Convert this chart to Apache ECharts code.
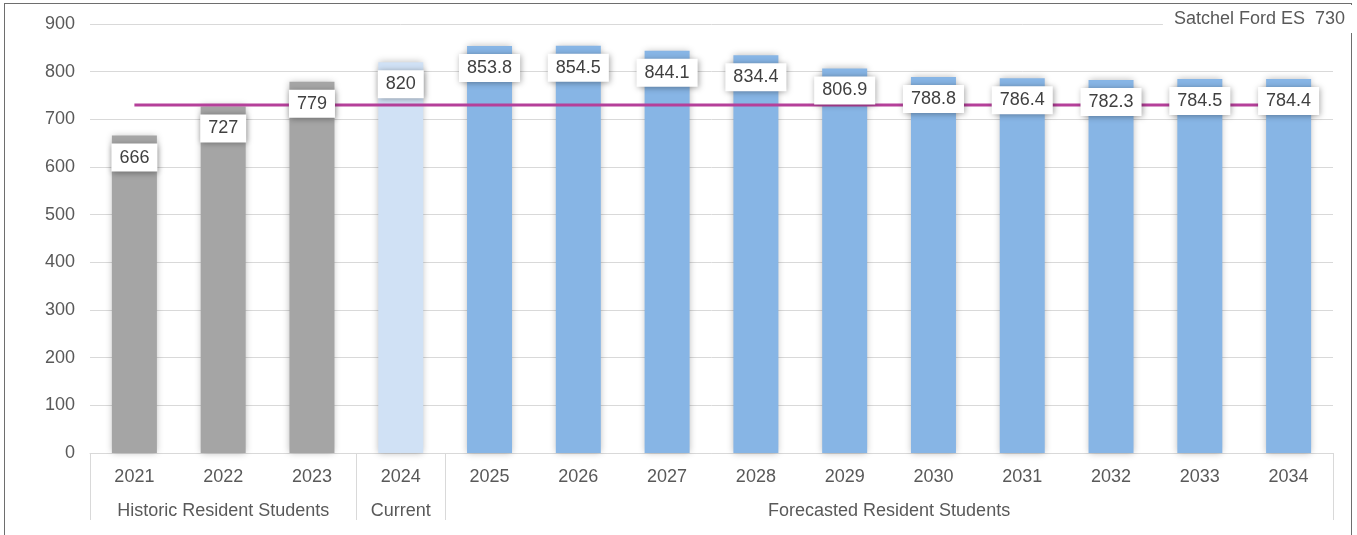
<!DOCTYPE html>
<html>
<head>
<meta charset="utf-8">
<script src="https://cdn.jsdelivr.net/npm/echarts@6/dist/echarts.min.js"></script>
<style>
  html, body { margin: 0; padding: 0; background: #fff; }
  #frame { position: absolute; left: 4px; top: 3px; width: 1348px; height: 600px; border: 1px solid #6e6e6e; box-sizing: border-box; }
  #chart { position: absolute; left: 0; top: 0; width: 1357px; height: 535px; }
</style>
</head>
<body>
<div id="frame"></div>
<div id="chart"></div>
<script>
// ---- data ----
const years = ['2021','2022','2023','2024','2025','2026','2027','2028','2029','2030','2031','2032','2033','2034'];
const students = [666, 727, 779, 820, 853.8, 854.5, 844.1, 834.4, 806.9, 788.8, 786.4, 782.3, 784.5, 784.4];
const capacity = [730, 730, 730, 730, 730, 730, 730, 730, 730, 730, 730, 730, 730, 730];
const groupNames = ['Historic Resident Students', 'Current', 'Forecasted Resident Students'];
const groupCounts = [3, 1, 10];
const groupColors = ['#a5a5a5', '#d0e1f5', '#87b5e5'];
const capacityName = 'Satchel Ford ES  730';
const yTicks = { min: 0, max: 900, interval: 100 };

// ---- derived ----
const barColors = [];
const boundaries = [0];
groupCounts.forEach((c, gi) => {
  for (let i = 0; i < c; i++) barColors.push(groupColors[gi]);
  boundaries.push(boundaries[boundaries.length - 1] + c);
});
// half-band slots for group labels (boundaryGap false, 2*n+1 slots)
const halfSlots = new Array(years.length * 2 + 1).fill('');
groupCounts.forEach((c, gi) => {
  halfSlots[boundaries[gi] * 2 + c] = groupNames[gi];
});

const font = 'Liberation Sans, Arial, sans-serif';
const chart = echarts.init(document.getElementById('chart'));
chart.setOption({
  animation: false,
  textStyle: { fontFamily: font },
  legend: {
    data: [{ name: capacityName, icon: 'none' }],
    right: 4, top: 5,
    itemWidth: 0, itemHeight: 0,
    backgroundColor: '#fff',
    padding: [5, 8, 5, 6],
    textStyle: { fontSize: 18, color: '#595959', fontFamily: font }
  },
  grid: { left: 90, right: 24, top: 24, bottom: 82 },
  xAxis: [
    {
      type: 'category',
      data: years,
      axisLine: { lineStyle: { color: '#d9d9d9', width: 1 } },
      axisTick: {
        show: true, length: 67,
        interval: (idx) => boundaries.indexOf(idx) >= 0,
        lineStyle: { color: '#d9d9d9', width: 1 }
      },
      axisLabel: { color: '#595959', fontSize: 18, margin: 15, fontFamily: font, interval: 0 }
    },
    {
      type: 'category',
      position: 'bottom',
      offset: 40,
      boundaryGap: false,
      data: halfSlots,
      axisLine: { show: false },
      axisTick: { show: false },
      splitLine: { show: false },
      axisLabel: { color: '#595959', fontSize: 18, margin: 9, interval: 0, fontFamily: font }
    }
  ],
  yAxis: {
    type: 'value',
    min: yTicks.min, max: yTicks.max, interval: yTicks.interval,
    axisLine: { show: false },
    axisTick: { show: false },
    splitLine: { lineStyle: { color: '#d9d9d9', width: 1 } },
    axisLabel: { color: '#595959', fontSize: 18, margin: 15, fontFamily: font }
  },
  series: [
    {
      type: 'bar',
      name: 'Students',
      xAxisIndex: 0,
      barWidth: 45,
      z: 2,
      data: students.map((v, i) => ({ value: v, itemStyle: { color: barColors[i] } })),
      itemStyle: { shadowBlur: 7, shadowColor: 'rgba(0,0,0,0.28)', shadowOffsetY: 0 }
    },
    {
      type: 'line',
      name: capacityName,
      xAxisIndex: 0,
      data: capacity,
      z: 3,
      symbol: 'none',
      lineStyle: { color: '#b5409a', width: 3 },
      itemStyle: { color: '#b5409a' }
    },
    {
      type: 'bar',
      name: 'labels',
      xAxisIndex: 0,
      barWidth: 45,
      barGap: '-100%',
      z: 4,
      silent: true,
      data: students,
      itemStyle: { color: 'rgba(0,0,0,0)' },
      label: {
        show: true,
        position: 'insideTop',
        distance: 8,
        color: '#404040',
        fontSize: 18,
        fontFamily: font,
        backgroundColor: '#fff',
        padding: [5, 8, 5, 8],
        shadowBlur: 6,
        shadowColor: 'rgba(0,0,0,0.35)',
        shadowOffsetX: 1,
        shadowOffsetY: 1
      }
    }
  ]
});
</script>
</body>
</html>
